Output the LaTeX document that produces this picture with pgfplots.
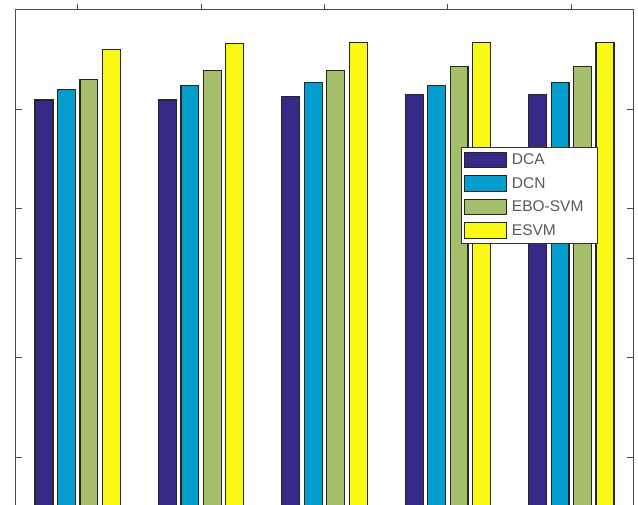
\documentclass[border=0pt]{standalone}
\usepackage{pgfplots}
\pgfplotsset{compat=1.18}
\usepackage{fontspec}
\setmainfont{Liberation Sans}
\definecolor{cDCA}{RGB}{53,42,135}
\definecolor{cDCN}{RGB}{3,157,206}
\definecolor{cEBO}{RGB}{165,190,106}
\definecolor{cESVM}{RGB}{249,249,20}
\begin{document}
\begin{tikzpicture}[x=1pt,y=1pt]
\useasboundingbox (0,0) rectangle (638,505);
\clip (0,0) rectangle (638,505);
\begin{axis}[
  at={(16pt,-2pt)}, anchor=south west,
  width=617pt, height=497pt, scale only axis,
  xmin=0.5, xmax=5.5, ymin=50, ymax=100,
  xtick={1,2,3,4,5}, xticklabels={},
  ytick={55,65,75,80,90}, yticklabels={},
  tick align=inside, major tick length=6pt,
  every tick/.style={black!70, line width=1pt},
  axis line style={black!70, line width=1pt},
  ybar, bar width=0.145,
  every axis plot/.append style={draw=black!85, line width=1.2pt},
  legend cell align=left,
  legend image code/.code={\draw[#1] (0pt,-7.5pt) rectangle (42pt,8pt);},
  legend style={at={(0.721,0.725)}, anchor=north west, draw=black!80, line width=0.8pt,
    font=\fontsize{15.5}{17}\selectfont\color{black!65}, inner xsep=3pt, inner ysep=4.5pt,
    nodes={inner sep=2pt},
    row sep=6.8pt, column sep=2.5pt},
]
\addplot[fill=cDCA, bar shift=-0.273] coordinates {(1,90.95) (2,90.95) (3,91.3) (4,91.5) (5,91.5)};
\addplot[fill=cDCN, bar shift=-0.091] coordinates {(1,92.0) (2,92.4) (3,92.7) (4,92.4) (5,92.7)};
\addplot[fill=cEBO, bar shift=0.091] coordinates {(1,93.0) (2,93.9) (3,93.9) (4,94.3) (5,94.3)};
\addplot[fill=cESVM, bar shift=0.273] coordinates {(1,96.0) (2,96.6) (3,96.75) (4,96.75) (5,96.75)};
\legend{DCA,DCN,EBO-SVM\hspace*{9pt},ESVM}
\end{axis}
\end{tikzpicture}
\end{document}
